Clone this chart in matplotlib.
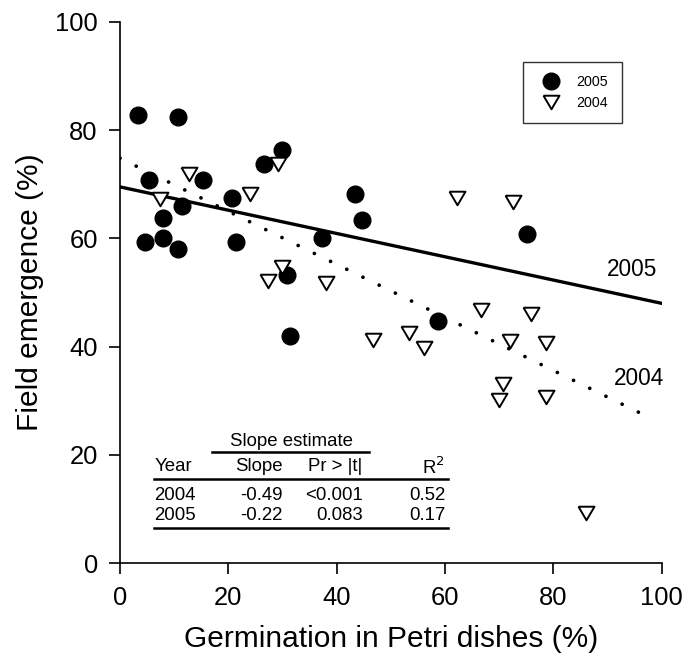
import numpy as np
import matplotlib
matplotlib.use("Agg")
import matplotlib.pyplot as plt

plt.rcParams['font.family'] = ['Liberation Sans', 'DejaVu Sans']

# 2005 seasons (filled circles)
x2005 = [3.4, 10.8, 5.4, 15.4, 11.4, 8.0, 4.7, 8.0, 10.8, 20.7,
         21.4, 26.6, 30.0, 37.3, 30.8, 31.4, 43.4, 44.7, 75.2, 58.7]
y2005 = [82.7, 82.4, 70.8, 70.8, 65.9, 63.8, 59.3, 60.1, 58.1, 67.5,
         59.3, 73.8, 76.4, 60.1, 53.3, 42.0, 68.1, 63.3, 60.8, 44.7]

# 2004 (open triangles)
x2004 = [12.8, 7.4, 24.0, 29.1, 30.0, 27.4, 38.1, 62.3, 72.6, 66.7,
         75.8, 46.7, 53.3, 56.1, 72.0, 78.7, 70.7, 69.9, 78.7, 86.0]
y2004 = [71.8, 67.2, 68.1, 73.7, 54.7, 52.1, 51.8, 67.5, 66.8, 46.7,
         46.1, 41.2, 42.6, 39.8, 41.0, 40.6, 33.1, 30.1, 30.7, 9.3]

# fitted lines: intercept, slope, x range
fit_years = ["2004", "2005"]
fit_intercept = [74.8, 69.5]
fit_slope = [-0.49, -0.215]
fit_xmax = [97.5, 100]

# summary table
tab_header = ["Year", "Slope", "Pr > |t|", "R$^2$"]
tab_rows = [["2004", "-0.49", "<0.001", "0.52"],
            ["2005", "-0.22", "0.083", "0.17"]]

# slightly flattened down-triangle like the original
tri = [(-1.0, 0.85), (1.0, 0.85), (0.0, -0.85), (-1.0, 0.85)]

fig = plt.figure(figsize=(6.84, 6.58), dpi=100)
ax = fig.add_axes([0.1754, 0.1439, 0.792, 0.8231])

ax.plot(x2005, y2005, 'o', color='black', markersize=12, label='2005',
        linestyle='none', zorder=3)
ax.plot(x2004, y2004, marker=tri, markerfacecolor='white',
        markeredgecolor='black', markeredgewidth=1.4, markersize=11.5,
        label='2004', linestyle='none', zorder=3)

for yr, b, m, xm in zip(fit_years, fit_intercept, fit_slope, fit_xmax):
    xx = np.array([0, xm])
    if yr == "2005":
        ax.plot(xx, b + m * xx, color='black', lw=2.4, zorder=2)
    else:
        ax.plot(xx, b + m * xx, color='black', lw=2.7,
                linestyle=(0, (0.01, 4.8)), dash_capstyle='round', zorder=2)

ax.text(94.5, 54.3, "2005", fontsize=16.3, ha='center', va='center')
ax.text(95.8, 34.2, "2004", fontsize=16.3, ha='center', va='center')

ax.set_xlim(0, 100)
ax.set_ylim(0, 100)
ax.set_xticks(range(0, 101, 20))
ax.set_yticks(range(0, 101, 20))
ax.spines['top'].set_visible(False)
ax.spines['right'].set_visible(False)
ax.spines['left'].set_linewidth(1.2)
ax.spines['bottom'].set_linewidth(1.2)
ax.tick_params(direction='out', length=8, width=1.2, labelsize=18.4, pad=8)
ax.set_xlabel("Germination in Petri dishes (%)", fontsize=21.5, labelpad=11)
ax.set_ylabel("Field emergence (%)", fontsize=21.5, labelpad=8)

leg = ax.legend(loc='upper left', bbox_to_anchor=(0.744, 0.926), fontsize=10.3,
                frameon=True, fancybox=False, edgecolor='black',
                borderaxespad=0, handletextpad=0.8, borderpad=0.95,
                labelspacing=0.45, handlelength=2.0)
leg.get_frame().set_linewidth(1.0)

# table drawn in axes fraction
tr = ax.transAxes
ax.text(0.317, 0.224, "Slope estimate", fontsize=13.4, ha='center',
        va='center', transform=tr)
ax.plot([0.169, 0.460], [0.205, 0.205], color='black', lw=1.8,
        transform=tr, clip_on=False)
col_x = [0.063, 0.300, 0.448, 0.600]
col_ha = ['left', 'right', 'right', 'right']
for txt, cx, ha in zip(tab_header, col_x, col_ha):
    ax.text(cx, 0.178, txt, fontsize=13.4, ha=ha, va='center', transform=tr)
ax.plot([0.063, 0.606], [0.155, 0.155], color='black', lw=1.8,
        transform=tr, clip_on=False)
for row, ry in zip(tab_rows, [0.126, 0.0877]):
    for txt, cx, ha in zip(row, col_x, col_ha):
        ax.text(cx, ry, txt, fontsize=13.4, ha=ha, va='center', transform=tr)
ax.plot([0.063, 0.606], [0.0657, 0.0657], color='black', lw=1.8,
        transform=tr, clip_on=False)

fig.savefig("out.png", dpi=100)
